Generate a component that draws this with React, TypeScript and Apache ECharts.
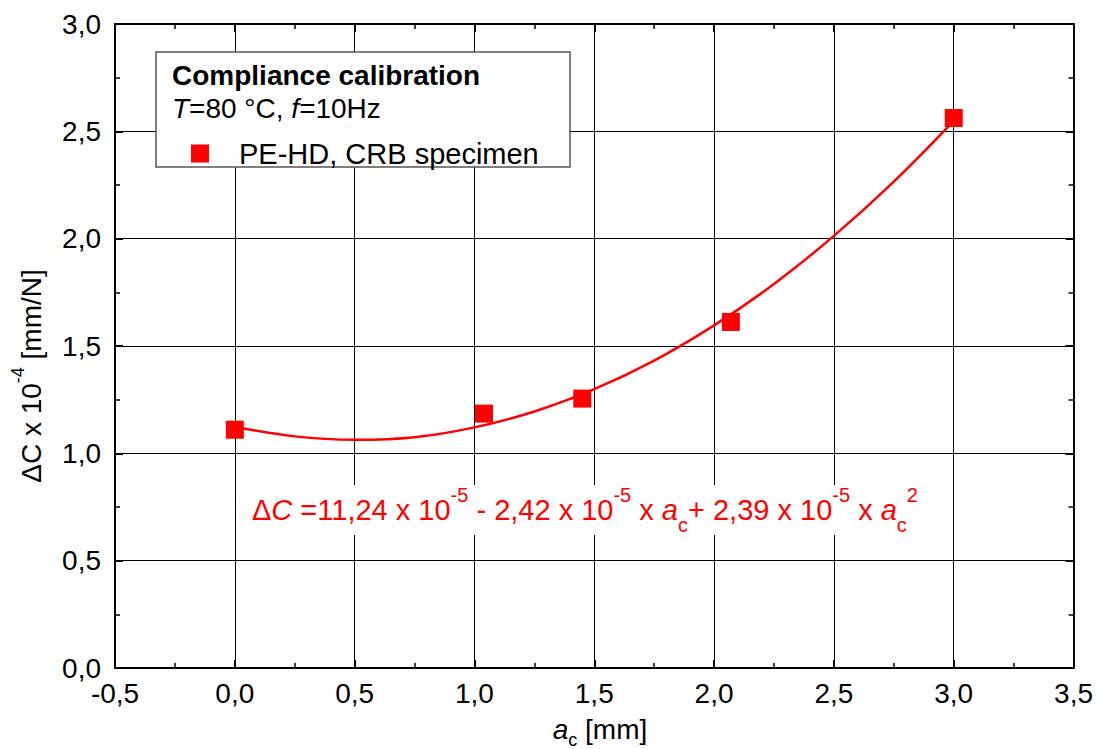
import React, { useEffect, useRef } from "react";
import * as echarts from "echarts";

const FONT = '"Liberation Sans", Arial, sans-serif';
const RED = "#ff0000";

// measured data points: crack length a_c [mm], ΔC x 10^-4 [mm/N]
const crackLength = [0.0, 1.04, 1.45, 2.07, 3.0];
const deltaC = [1.11, 1.185, 1.255, 1.612, 2.562];

// fit curve
const fitX = [0, 0.25, 0.5, 0.75, 1.0, 1.25, 1.5, 1.75, 2.0, 2.25, 2.5, 2.75, 3.0];
const fitY = [1.124, 1.079, 1.063, 1.075, 1.121, 1.195, 1.299, 1.432, 1.596, 1.789, 2.013, 2.266, 2.549];

const seriesName = "PE-HD, CRB specimen";

const fmt = (v: number) => v.toFixed(1).replace(".", ",");

export default function App() {
  const ref = useRef<HTMLDivElement>(null);
  useEffect(() => {
    if (!ref.current) return;
    const chart = echarts.init(ref.current, null, { renderer: "svg" });
    const axisCommon = {
      type: "value" as const,
      interval: 0.5,
      axisLine: { show: true, onZero: false, lineStyle: { color: "#000", width: 2 } },
      axisTick: { show: true, inside: true, length: 8, lineStyle: { color: "#000", width: 2 } },
      minorTick: { show: true, splitNumber: 2, length: 5, lineStyle: { color: "#000", width: 1.5 } },
    };
    const labelStyle = { color: "#000", fontFamily: FONT, fontSize: 28, formatter: fmt };
    const fs = 28;
    const efs = 29;
    chart.setOption({
      animation: false,
      backgroundColor: "#fff",
      grid: { left: 115, right: 20, top: 24, bottom: 81, containLabel: false },
      xAxis: [
        {
          ...axisCommon,
          min: -0.5,
          max: 3.5,
          position: "bottom",
          axisLabel: { ...labelStyle, margin: 11 },
          splitLine: { show: true, lineStyle: { color: "#000", width: 1 } },
        },
        {
          ...axisCommon,
          min: -0.5,
          max: 3.5,
          position: "top",
          axisLabel: { show: false },
          splitLine: { show: false },
        },
      ],
      yAxis: [
        {
          ...axisCommon,
          min: 0,
          max: 3,
          position: "left",
          axisLabel: { ...labelStyle, margin: 14 },
          splitLine: { show: true, lineStyle: { color: "#000", width: 1 } },
        },
        {
          ...axisCommon,
          min: 0,
          max: 3,
          position: "right",
          axisLabel: { show: false },
          splitLine: { show: false },
        },
      ],
      legend: {
        z: 100,
        data: [{ name: seriesName, icon: "rect" }],
        left: 186,
        top: 134,
        itemWidth: 18,
        itemHeight: 18,
        textStyle: { fontFamily: FONT, fontSize: 29, color: "#000", padding: [0, 0, 0, 25] },
      },
      graphic: [
        {
          type: "rect",
          shape: { x: 156, y: 52, width: 414, height: 115 },
          style: { fill: "#fff", stroke: "#555", lineWidth: 1.5 },
          z: 50,
        },
        {
          type: "text",
          x: 172,
          y: 75,
          z: 51,
          style: {
            text: "Compliance calibration",
            fontFamily: FONT,
            fontSize: fs,
            fontWeight: "bold",
            fill: "#000",
            verticalAlign: "middle",
          },
        },
        {
          type: "text",
          x: 172,
          y: 108,
          z: 51,
          style: {
            text: "{i|T}{n|=80 °C, }{i|f}{n|=10Hz}",
            fontFamily: FONT,
            fontSize: fs,
            fill: "#000",
            verticalAlign: "middle",
            rich: {
              i: { fontFamily: FONT, fontSize: fs, fontStyle: "italic", fill: "#000" },
              n: { fontFamily: FONT, fontSize: fs, fill: "#000" },
            },
          },
        },
        {
          type: "text",
          x: 252,
          y: 510,
          z: 20,
          style: {
            text:
              "{n|Δ}{i|C}{n| =11,24 x 10}{sup|-5}{n| - 2,42 x 10}{sup|-5}{n| x }{i|a}{sub|c}{n|+ 2,39 x 10}{sup|-5}{n| x }{i|a}{sub|c}{sup|2}",
            fontFamily: FONT,
            fontSize: efs,
            fill: RED,
            verticalAlign: "middle",
            backgroundColor: "#fff",
            rich: {
              n: { fontFamily: FONT, fontSize: efs, fill: RED, lineHeight: 50, verticalAlign: "middle" },
              i: { fontFamily: FONT, fontSize: efs, fill: RED, fontStyle: "italic", lineHeight: 50, verticalAlign: "middle" },
              sup: { fontFamily: FONT, fontSize: 20, fill: RED, lineHeight: 50, verticalAlign: "top" },
              sub: { fontFamily: FONT, fontSize: 20, fill: RED, lineHeight: 50, verticalAlign: "bottom" },
            },
          },
        },
        {
          type: "text",
          x: 600,
          y: 729,
          style: {
            text: "{i|a}{sub|c}{n| [mm]}",
            fontFamily: FONT,
            fontSize: fs,
            fill: "#000",
            align: "center",
            verticalAlign: "middle",
            rich: {
              n: { fontFamily: FONT, fontSize: fs, fill: "#000", lineHeight: 40, verticalAlign: "middle" },
              i: { fontFamily: FONT, fontSize: fs, fill: "#000", fontStyle: "italic", lineHeight: 40, verticalAlign: "middle" },
              sub: { fontFamily: FONT, fontSize: 18, fill: "#000", lineHeight: 40, verticalAlign: "bottom" },
            },
          },
        },
        {
          type: "text",
          x: 31,
          y: 376,
          rotation: Math.PI / 2,
          style: {
            text: "{n|ΔC x 10}{sup|-4}{n| [mm/N]}",
            fontFamily: FONT,
            fontSize: fs,
            fill: "#000",
            align: "center",
            verticalAlign: "middle",
            rich: {
              n: { fontFamily: FONT, fontSize: fs, fill: "#000", lineHeight: 44, verticalAlign: "middle" },
              sup: { fontFamily: FONT, fontSize: 18, fill: "#000", lineHeight: 44, verticalAlign: "top" },
            },
          },
        },
      ],
      series: [
        {
          name: "fit",
          type: "line",
          data: fitX.map((x, i) => [x, fitY[i]]),
          smooth: 0.4,
          showSymbol: false,
          lineStyle: { color: RED, width: 2.5 },
          z: 3,
        },
        {
          name: seriesName,
          type: "scatter",
          data: crackLength.map((x, i) => [x, deltaC[i]]),
          symbol: "rect",
          symbolSize: 18,
          itemStyle: { color: RED, opacity: 1 },
          z: 4,
        },
      ],
    });
    return () => chart.dispose();
  }, []);
  return (
    <div
      ref={ref}
      style={{ position: "fixed", left: 0, top: 0, width: 1096, height: 749, background: "#fff" }}
    />
  );
}
